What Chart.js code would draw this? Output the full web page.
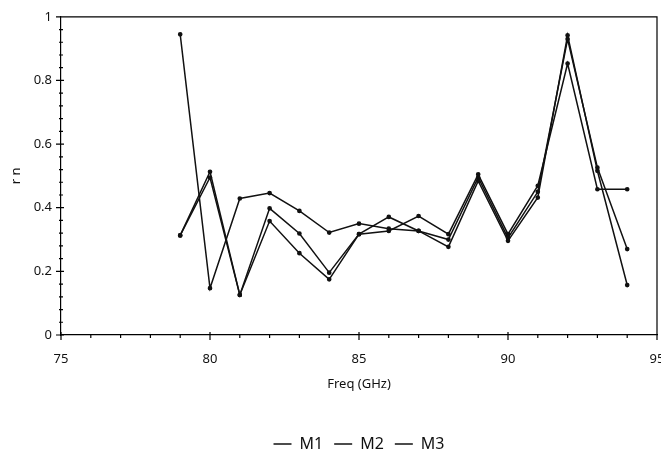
<!DOCTYPE html>
<html>
<head>
<meta charset="utf-8">
<script src="https://cdn.jsdelivr.net/npm/chart.js@4"></script>
<style>
  html, body { margin: 0; padding: 0; background: #fff; }
  #wrap { width: 661px; height: 452px; }
</style>
</head>
<body>
<div id="wrap"><canvas id="myChart"></canvas></div>
<script>
const freq = [79, 80, 81, 82, 83, 84, 85, 86, 87, 88, 89, 90, 91, 92, 93, 94];
const m1 = [0.945, 0.147, 0.429, 0.446, 0.39, 0.322, 0.35, 0.334, 0.327, 0.30, 0.495, 0.305, 0.45, 0.93, 0.526, 0.27];
const m2 = [0.313, 0.513, 0.126, 0.398, 0.319, 0.196, 0.317, 0.371, 0.327, 0.277, 0.484, 0.296, 0.432, 0.942, 0.516, 0.157];
const m3 = [0.313, 0.495, 0.126, 0.358, 0.257, 0.175, 0.317, 0.327, 0.374, 0.317, 0.505, 0.317, 0.469, 0.853, 0.458, 0.458];

const toPts = arr => arr.map((v, i) => ({ x: freq[i], y: v }));
const fontFam = '"Noto Sans", "Open Sans", sans-serif';

// axis frame + ticks (major crossing, minor small)
const frameTicks = {
  id: 'frameTicks',
  afterDraw(chart) {
    const { ctx, chartArea: a, scales } = chart;
    ctx.save();
    ctx.strokeStyle = '#000';
    ctx.lineWidth = 1.2;
    ctx.beginPath();
    ctx.moveTo(a.left, a.top); ctx.lineTo(a.right, a.top); ctx.lineTo(a.right, a.bottom);
    for (let v = 75; v <= 95; v++) {
      const px = scales.x.getPixelForValue(v);
      if (v % 5 === 0) { ctx.moveTo(px, a.bottom - 3); ctx.lineTo(px, a.bottom + 5); }
      else { ctx.moveTo(px, a.bottom); ctx.lineTo(px, a.bottom + 3); }
    }
    for (let i = 0; i <= 25; i++) {
      const py = scales.y.getPixelForValue(i * 0.04);
      if (i % 5 === 0) { ctx.moveTo(a.left - 5, py); ctx.lineTo(a.left + 3, py); }
      else { ctx.moveTo(a.left - 2, py); ctx.lineTo(a.left + 2, py); }
    }
    ctx.stroke();
    ctx.restore();
  }
};

const ds = (label, data) => ({
  label: label,
  data: toPts(data),
  borderColor: '#111',
  backgroundColor: '#111',
  borderWidth: 1.5,
  pointRadius: 1.6,
  pointHoverRadius: 1.6,
  tension: 0
});

const ctx = document.getElementById('myChart');
new Chart(ctx, {
  type: 'line',
  data: {
    datasets: [ds('M1', m1), ds('M2', m2), ds('M3', m3)]
  },
  options: {
    responsive: true,
    maintainAspectRatio: false,
    animation: false,
    layout: { padding: { top: 16, right: 4, left: 0, bottom: -10 } },
    scales: {
      x: {
        type: 'linear',
        min: 75, max: 95,
        afterFit(s) { s.paddingRight = 0; s.height = 90; },
        grid: { display: false, tickLength: 0 },
        border: { display: true, color: '#000', width: 1.2 },
        ticks: { stepSize: 5, color: '#111', padding: 16, font: { family: fontFam, size: 13 } },
        title: { display: true, text: 'Freq (GHz)', color: '#111', font: { family: fontFam, size: 13 }, padding: { top: 0, bottom: 33 } }
      },
      y: {
        min: 0, max: 1,
        afterFit(s) { s.width = 61; },
        grid: { display: false, tickLength: 0 },
        border: { display: true, color: '#000', width: 1.2 },
        ticks: {
          stepSize: 0.2, color: '#111', padding: 9,
          font: { family: fontFam, size: 13 },
          callback: v => String(Math.round(v * 10) / 10)
        },
        title: { display: true, text: 'r n', color: '#111', font: { family: fontFam, size: 13 }, padding: { top: 8, bottom: 0 } }
      }
    },
    plugins: {
      legend: {
        position: 'bottom',
        fullSize: false,
        labels: {
          usePointStyle: true,
          pointStyle: 'line',
          pointStyleWidth: 18,
          color: '#111',
          padding: 11,
          font: { family: fontFam, size: 16 }
        }
      },
      tooltip: { enabled: false }
    }
  },
  plugins: [frameTicks]
});
</script>
</body>
</html>
